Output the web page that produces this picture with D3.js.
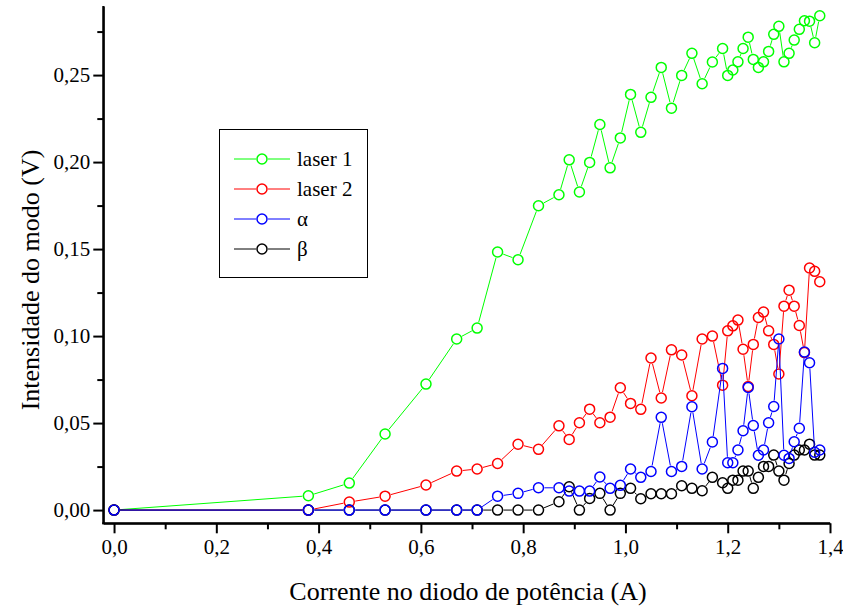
<!DOCTYPE html>
<html>
<head>
<meta charset="utf-8">
<script src="https://cdn.jsdelivr.net/npm/d3@7/dist/d3.min.js"></script>
<style>
  html, body { margin: 0; padding: 0; background: #fff; }
  svg { display: block; }
</style>
</head>
<body>
<div id="chart"></div>
<script>
// Pump-diode current (A)
const current = [0, 0.38, 0.46, 0.53, 0.61, 0.67, 0.71,
  0.75, 0.79, 0.83, 0.87,
  0.89, 0.91, 0.93, 0.95, 0.97, 0.99, 1.01, 1.03, 1.05, 1.07, 1.09, 1.11, 1.13, 1.15, 1.17, 1.19,
  1.20, 1.21, 1.22, 1.23, 1.24, 1.25, 1.26, 1.27, 1.28, 1.29, 1.30, 1.31, 1.32, 1.33, 1.34, 1.35, 1.36, 1.37, 1.38];

// Mode intensity (V) for each series
const laser1 = [0, 0.0082, 0.0155, 0.0437, 0.0724, 0.0983, 0.1046,
  0.1483, 0.1439, 0.1749, 0.1812,
  0.2013, 0.1828, 0.1998, 0.2216, 0.1967, 0.2139, 0.2389, 0.2171, 0.2372, 0.2544, 0.2310, 0.2498, 0.2625, 0.2450, 0.2575, 0.2653,
  0.2498, 0.2529, 0.2576, 0.2653, 0.2718, 0.2590, 0.2544, 0.2576, 0.2636, 0.2734, 0.2780, 0.2576, 0.2625, 0.2701, 0.2763, 0.2812, 0.2810, 0.2686, 0.2841];

const laser2 = [0, 0, 0.0046, 0.0080, 0.0144, 0.0224, 0.0236,
  0.0268, 0.0378, 0.0349, 0.0484,
  0.0406, 0.0502, 0.0580, 0.0502, 0.0534, 0.0703, 0.0613, 0.0579, 0.0874, 0.0644, 0.0921, 0.0891, 0.0657, 0.0983, 0.1000, 0.0718,
  0.1030, 0.1059, 0.1092, 0.0924, 0.0710, 0.0952, 0.1107, 0.1138, 0.1030, 0.0952, 0.0782, 0.1172, 0.1264, 0.1172, 0.1061, 0.0905, 0.1391, 0.1372, 0.1312];

const alpha = [0, 0, 0, 0, 0, 0, 0,
  0.0080, 0.0096, 0.0128, 0.0128,
  0.0109, 0.0109, 0.0109, 0.0190, 0.0125, 0.0142, 0.0236, 0.0188, 0.0222, 0.0533, 0.0222, 0.0251, 0.0594, 0.0236, 0.0391, 0.0814,
  0.0272, 0.0272, 0.0345, 0.0456, 0.0705, 0.0486, 0.0315, 0.0345, 0.0502, 0.0595, 0.0983, 0.0315, 0.0297, 0.0393, 0.0470, 0.0908, 0.0847, 0.0332, 0.0345];

const beta = [0, 0, 0, 0, 0, 0, 0,
  0, 0, 0, 0.0048,
  0.0134, 0, 0.0067, 0.0096, 0, 0.0096, 0.0125, 0.0065, 0.0094, 0.0094, 0.0094, 0.0140, 0.0125, 0.0111, 0.0188, 0.0157,
  0.0125, 0.0172, 0.0172, 0.0224, 0.0224, 0.0125, 0.0188, 0.0251, 0.0251, 0.0316, 0.0224, 0.0172, 0.0268, 0.0316, 0.0345, 0.0345, 0.0379, 0.0316, 0.0316];

const seriesNames = ["laser 1", "laser 2", "α", "β"];
const seriesColors = ["#00ff00", "#ff0000", "#0000ff", "#000000"];

const xTickValues = [0, 0.2, 0.4, 0.6, 0.8, 1.0, 1.2, 1.4];
const xMinorValues = [0.1, 0.3, 0.5, 0.7, 0.9, 1.1, 1.3];
const yTickValues = [0, 0.05, 0.10, 0.15, 0.20, 0.25];
const yMinorValues = [0.025, 0.075, 0.125, 0.175, 0.225, 0.275];

const FONT = "Liberation Serif";
const W = 843, H = 612;
const svg = d3.select("#chart").append("svg").attr("width", W).attr("height", H);
svg.append("rect").attr("width", W).attr("height", H).attr("fill", "#fff");

const x = d3.scaleLinear().domain([-0.021, 1.4]).range([103.3, 830]);
const y = d3.scaleLinear().domain([-0.0076, 0.2897]).range([523.3, 6]);

const comma = f => v => f(v).replace(".", ",");

// Axes: major ticks with labels, minor ticks without
const xAxisG = svg.append("g").attr("transform", `translate(0,${y.range()[0]})`);
xAxisG.call(d3.axisBottom(x).tickValues(xTickValues).tickFormat(comma(d3.format(".1f"))).tickSizeInner(10).tickSizeOuter(0).tickPadding(6));
const xMinorG = svg.append("g").attr("transform", `translate(0,${y.range()[0]})`);
xMinorG.call(d3.axisBottom(x).tickValues(xMinorValues).tickFormat("").tickSizeInner(6).tickSizeOuter(0));

const yAxisG = svg.append("g").attr("transform", `translate(${x.range()[0]},0)`);
yAxisG.call(d3.axisLeft(y).tickValues(yTickValues).tickFormat(comma(d3.format(".2f"))).tickSizeInner(10).tickSizeOuter(0).tickPadding(3));
const yMinorG = svg.append("g").attr("transform", `translate(${x.range()[0]},0)`);
yMinorG.call(d3.axisLeft(y).tickValues(yMinorValues).tickFormat("").tickSizeInner(6).tickSizeOuter(0));

[xAxisG, xMinorG, yAxisG, yMinorG].forEach(g => {
  g.attr("font-family", FONT).attr("font-size", 21);
  g.selectAll("path.domain").attr("stroke", "#000").attr("stroke-width", 2);
  g.selectAll(".tick line").attr("stroke", "#000").attr("stroke-width", 2);
  g.selectAll(".tick text").attr("font-family", FONT).attr("font-size", 21).attr("fill", "#000");
});
// extend the axis lines slightly past the origin corner so they join
xAxisG.select("path.domain").attr("d", `M${x.range()[0] - 1},0H${x.range()[1]}`);
yAxisG.select("path.domain").attr("d", `M0,${y.range()[0] + 1}V${y.range()[1]}`);

// Axis titles
svg.append("text")
  .attr("x", 468).attr("y", 600)
  .attr("text-anchor", "middle")
  .attr("font-family", FONT).attr("font-size", 26).attr("fill", "#000")
  .text("Corrente no diodo de potência (A)");
svg.append("text")
  .attr("transform", "translate(39,280) rotate(-90)")
  .attr("text-anchor", "middle")
  .attr("font-family", FONT).attr("font-size", 26).attr("fill", "#000")
  .text("Intensidade do modo (V)");

// Line + symbol series; connecting segments stop short of each marker
const R = 5, GAP = 6;
function gappedSegments(pts) {
  const segs = [];
  for (let i = 0; i < pts.length - 1; i++) {
    const [x1, y1] = pts[i], [x2, y2] = pts[i + 1];
    const dx = x2 - x1, dy = y2 - y1, d = Math.hypot(dx, dy);
    if (d <= 2 * GAP) continue;
    const ux = dx / d, uy = dy / d;
    segs.push([x1 + ux * GAP, y1 + uy * GAP, x2 - ux * GAP, y2 - uy * GAP]);
  }
  return segs;
}

const seriesData = [laser1, laser2, beta, alpha];
const seriesColorOrder = [seriesColors[0], seriesColors[1], seriesColors[3], seriesColors[2]];

seriesData.forEach((vals, si) => {
  const color = seriesColorOrder[si];
  const pts = current.map((c, i) => [x(c), y(vals[i])]);
  const g = svg.append("g");
  g.selectAll("line").data(gappedSegments(pts)).join("line")
    .attr("x1", d => d[0]).attr("y1", d => d[1])
    .attr("x2", d => d[2]).attr("y2", d => d[3])
    .attr("stroke", color).attr("stroke-width", 1);
  g.selectAll("circle").data(pts).join("circle")
    .attr("cx", d => d[0]).attr("cy", d => d[1]).attr("r", R)
    .attr("fill", "none").attr("stroke", color).attr("stroke-width", 1.5);
});

// Legend
const lg = svg.append("g");
lg.append("rect").attr("x", 219.5).attr("y", 129.5).attr("width", 148).attr("height", 148)
  .attr("fill", "#fff").attr("stroke", "#000").attr("stroke-width", 1);
seriesNames.forEach((name, i) => {
  const yy = 159 + i * 30;
  const c = seriesColors[i];
  lg.append("line").attr("x1", 234).attr("x2", 256).attr("y1", yy).attr("y2", yy).attr("stroke", c).attr("stroke-width", 1);
  lg.append("line").attr("x1", 268).attr("x2", 290).attr("y1", yy).attr("y2", yy).attr("stroke", c).attr("stroke-width", 1);
  lg.append("circle").attr("cx", 262).attr("cy", yy).attr("r", R).attr("fill", "none").attr("stroke", c).attr("stroke-width", 1.5);
  lg.append("text").attr("x", 297).attr("y", yy + 7)
    .attr("font-family", FONT).attr("font-size", 21).attr("fill", "#000")
    .text(name);
});
</script>
</body>
</html>
